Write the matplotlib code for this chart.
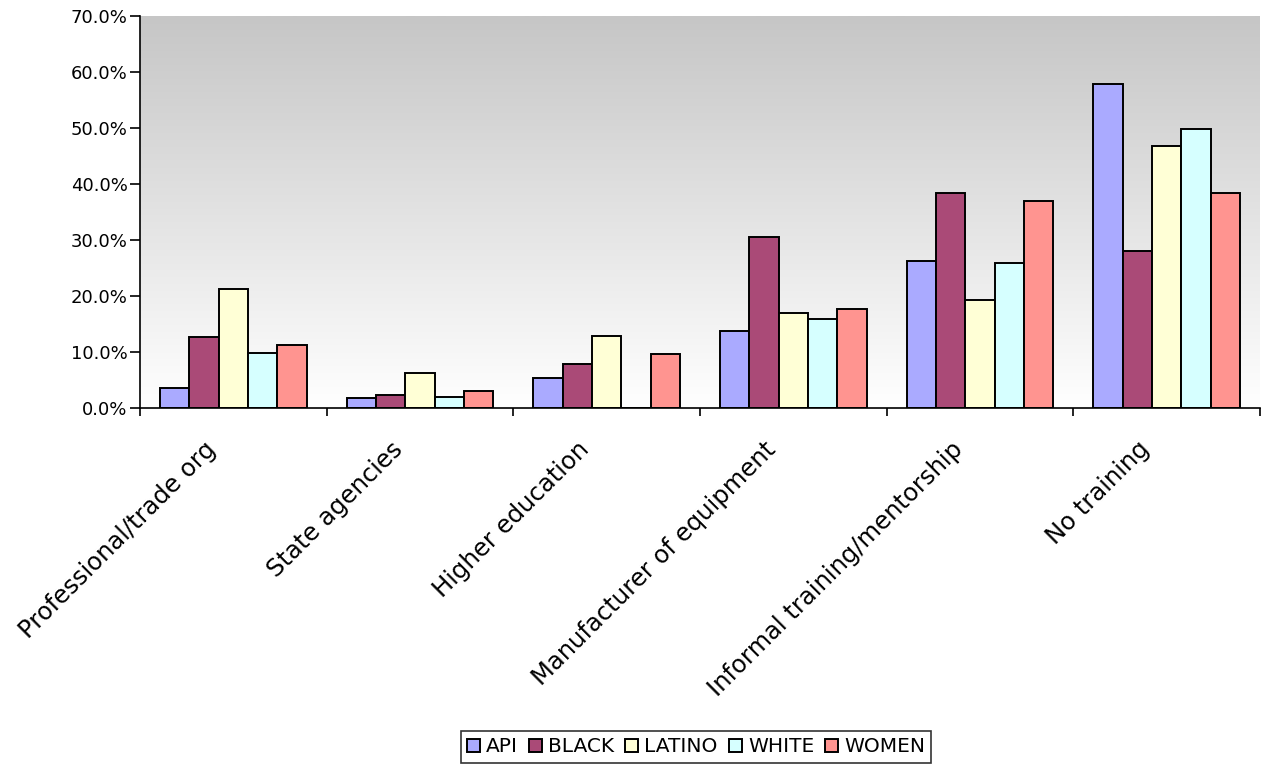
import numpy as np
import matplotlib.pyplot as plt
import matplotlib.transforms as mtransforms
from matplotlib.colors import LinearSegmentedColormap
from matplotlib.ticker import FuncFormatter

categories = ['Professional/trade org', 'State agencies', 'Higher education',
              'Manufacturer of equipment', 'Informal training/mentorship', 'No training']
groups = ['API', 'BLACK', 'LATINO', 'WHITE', 'WOMEN']

# percent of respondents per source of training
api = [3.5, 1.7, 5.3, 13.8, 26.3, 57.8]
black = [12.7, 2.3, 7.8, 30.6, 38.4, 28.1]
latino = [21.2, 6.3, 12.8, 17.0, 19.2, 46.7]
white = [9.8, 2.0, 0.0, 15.9, 25.9, 49.8]
women = [11.3, 3.1, 9.6, 17.7, 37.0, 38.4]

colors = ['#aaaaff', '#aa4a77', '#ffffd6', '#d6ffff', '#ff9490']

fig = plt.figure(figsize=(12.62, 7.69), dpi=100)
ax = fig.add_axes([140 / 1262, 1 - 408 / 769, 1120 / 1262, 392 / 769])

# grey-to-white background
grad = LinearSegmentedColormap.from_list('bg', ['#ffffff', '#c6c6c6'])
ax.imshow(np.linspace(0, 1, 256).reshape(-1, 1), extent=(-0.5, 5.5, 0, 70),
          aspect='auto', cmap=grad, origin='lower', zorder=0)

x = np.arange(len(categories))
w = 0.1575
series = [api, black, latino, white, women]
for i, vals in enumerate(series):
    ax.bar(x + (i - 2) * w, vals, w, color=colors[i], edgecolor='black',
           linewidth=1.4, label=groups[i], zorder=2)

ax.set_xlim(-0.5, 5.5)
ax.set_ylim(0, 70)

for s in ['top', 'right']:
    ax.spines[s].set_visible(False)
for s in ['left', 'bottom']:
    ax.spines[s].set_linewidth(1.2)

ax.set_yticks(range(0, 80, 10))
ax.yaxis.set_major_formatter(FuncFormatter(lambda v, p: '%.1f%%' % v))
ax.tick_params(axis='y', length=7, width=1.2, labelsize=13, pad=2)

ax.set_xticks(x)
ax.set_xticklabels(categories, rotation=45, ha='right', va='center',
                   rotation_mode='anchor', fontsize=17.5)
ax.set_xticks(np.arange(-0.5, 6, 1), minor=True)
ax.tick_params(axis='x', which='major', length=0, pad=27)
ax.tick_params(axis='x', which='minor', length=6, width=1.2)

shift = mtransforms.ScaledTranslation(-21 / 100, 0, fig.dpi_scale_trans)
for lbl in ax.get_xticklabels():
    lbl.set_transform(lbl.get_transform() + shift)

leg = fig.legend(loc='center', bbox_to_anchor=(696 / 1262, 1 - 747 / 769),
                 ncol=5, fontsize=14.5, frameon=True, fancybox=False,
                 edgecolor='black', handlelength=0.65, handleheight=0.65,
                 handletextpad=0.3, columnspacing=0.55, borderpad=0.3)
leg.get_frame().set_linewidth(1.2)

fig.savefig('out.png', dpi=100)
